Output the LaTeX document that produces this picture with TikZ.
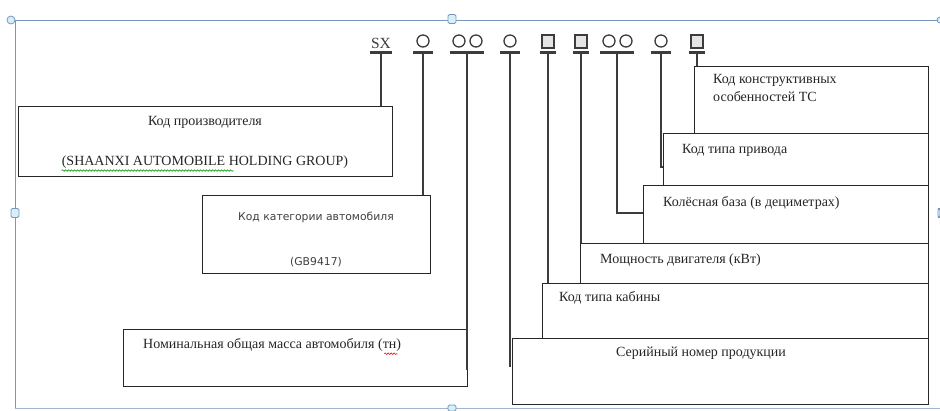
\documentclass[tikz,border=0pt]{standalone}
\usepackage{fontspec}
\setmainfont{Liberation Serif}
\newfontfamily\sansf{DejaVu Sans}
\usetikzlibrary{decorations.pathmorphing}
\definecolor{frameblue}{RGB}{120,150,190}
\definecolor{handlefill}{RGB}{215,240,248}
\definecolor{ink}{RGB}{60,60,60}
\begin{document}
\begin{tikzpicture}[x=1pt,y=-1pt,
  box/.style={draw=black!85, line width=1.2pt, fill=white, inner sep=0pt, anchor=north west},
  conn/.style={draw=ink, line width=2pt},
  barline/.style={draw=ink, line width=3pt},
  glyph/.style={draw=ink, line width=1.3pt},
  lbl/.style={font=\fontsize{14}{18}\selectfont, inner sep=0pt, text=black!85},
  slbl/.style={font=\sansf\fontsize{10.8}{13}\selectfont, inner sep=0pt, text=black!75},
  handle/.style={draw=frameblue, fill=handlefill, line width=0.8pt, rounded corners=1.5pt},
  squig/.style={decorate, decoration={snake, amplitude=0.8pt, segment length=3pt}, line width=0.6pt}
]
\useasboundingbox (0,0) rectangle (940,410);
% canvas frame
\draw[frameblue, line width=1pt] (15,20) -- (940,20);
\draw[frameblue, line width=1pt] (15,20) -- (15,408);
\draw[frameblue!70, line width=1pt] (15,408) -- (940,408);
\node[handle, minimum width=8pt, minimum height=9pt, inner sep=0pt] (h1) at (452,19) {};
\node[handle, minimum width=8pt, minimum height=9pt, inner sep=0pt] (h2) at (15,213) {};
\node[handle, minimum width=8pt, minimum height=6pt, inner sep=0pt] (h3) at (452,408) {};
\node[handle, circle, minimum size=8pt, inner sep=0pt] (h4) at (11,20) {};
\node[handle, minimum width=2pt, minimum height=9pt, inner sep=0pt] (h5) at (939,213) {};
\node[handle, circle, minimum size=6pt, inner sep=0pt] (h6) at (940,20) {};

% boxes
\node[box, minimum width=374pt, minimum height=70pt] (b1) at (18,106) {};
\node[box, minimum width=228pt, minimum height=78pt] (b2) at (202,195) {};
\node[box, minimum width=344pt, minimum height=57pt] (b3) at (123,329) {};
\node[box, minimum width=416pt, minimum height=66pt] (b4) at (512,338) {};
\node[box, minimum width=386pt, minimum height=55pt] (b5) at (542,283) {};
\node[box, minimum width=348pt, minimum height=40pt] (b6) at (580,243) {};
\node[box, minimum width=285pt, minimum height=58pt] (b7) at (643,185) {};
\node[box, minimum width=265pt, minimum height=52pt] (b8) at (663,133) {};
\node[box, minimum width=234pt, minimum height=67pt] (b9) at (694,66) {};

% code symbols
\node[font=\fontsize{15.5}{17}\selectfont, inner sep=0pt, text=ink] (g1) at (381,43) {SX};
\draw[glyph] (423,41) circle (6pt);
\draw[glyph] (459,41) circle (6pt);
\draw[glyph] (476,41) circle (6pt);
\draw[glyph] (510,41) circle (6pt);
\draw[glyph, fill=black!10] (542,35) rectangle (554,48);
\draw[glyph, fill=black!10] (575,35) rectangle (587,48);
\draw[glyph] (609,41) circle (6pt);
\draw[glyph] (626,41) circle (6pt);
\draw[glyph] (661,41) circle (6pt);
\draw[glyph, fill=black!10] (691,35) rectangle (703,48);

\coordinate (k1) at (381,52);
\coordinate (k2) at (423,52);
\coordinate (k3) at (467,52);
\coordinate (k4) at (510,52);
\coordinate (k5) at (548,52);
\coordinate (k6) at (581,52);
\coordinate (k7) at (617,52);
\coordinate (k8) at (661,52);
\coordinate (k9) at (697,52);
\draw[barline] ([xshift=-11pt]k1) -- ([xshift=11pt]k1);
\draw[barline] ([xshift=-10pt]k2) -- ([xshift=10pt]k2);
\draw[barline] ([xshift=-17pt]k3) -- ([xshift=17pt]k3);
\draw[barline] ([xshift=-10pt]k4) -- ([xshift=10pt]k4);
\draw[barline] ([xshift=-8pt]k5) -- ([xshift=8pt]k5);
\draw[barline] ([xshift=-8pt]k6) -- ([xshift=8pt]k6);
\draw[barline] ([xshift=-17pt]k7) -- ([xshift=17pt]k7);
\draw[barline] ([xshift=-10pt]k8) -- ([xshift=10pt]k8);
\draw[barline] ([xshift=-8pt]k9) -- ([xshift=8pt]k9);

\coordinate (e3) at (468,370);
\coordinate (e4) at (510,367);
% connectors
\draw[conn] (k1) -- (k1 |- b1.north);
\draw[conn] (k2) -- (k2 |- b2.north);
\draw[conn] (k3) -- (k3 |- e3);
\draw[conn] (k4) -- (k4 |- e4);
\draw[conn] (k5) -- (k5 |- b5.north);
\draw[conn] (k6) -- (k6 |- b6.north);
\draw[conn] (k7) -- (617,213) -- (643,213);
\draw[conn] (k8) -- (661,167) -- (663,167);
\draw[conn] (k9) -- (k9 |- b9.north);

% texts
\node[lbl] (t1a) at (205,122) {Код производителя};
\node[lbl] (t1b) at (205,162) {(SHAANXI AUTOMOBILE HOLDING GROUP)};
\node[slbl] (t2a) at (316,217) {Код категории автомобиля};
\node[slbl] (t2b) at (316,262) {(GB9417)};
\node[lbl, anchor=west] (t3) at (143,345) {Номинальная общая масса автомобиля (тн)};
\node[lbl] (t4) at (701,353) {Серийный номер продукции};
\node[lbl, anchor=west] (t5) at (559,298) {Код типа кабины};
\node[lbl, anchor=west] (t6) at (600,260) {Мощность двигателя (кВт)};
\node[lbl, anchor=west] (t7) at (663,203) {Колёсная база (в дециметрах)};
\node[lbl, anchor=west] (t8) at (682,150) {Код типа привода};
\node[lbl, anchor=north west, align=left] (t9) at (713,74) {Код конструктивных\\особенностей ТС};

% spell-check underlines
\draw[squig, green!60!black] (t1b.south west) ++(0,2) -- ++(172,0);
\draw[squig, red] (t3.south east) ++(-17,2) -- ++(13,0);
\end{tikzpicture}
\end{document}
